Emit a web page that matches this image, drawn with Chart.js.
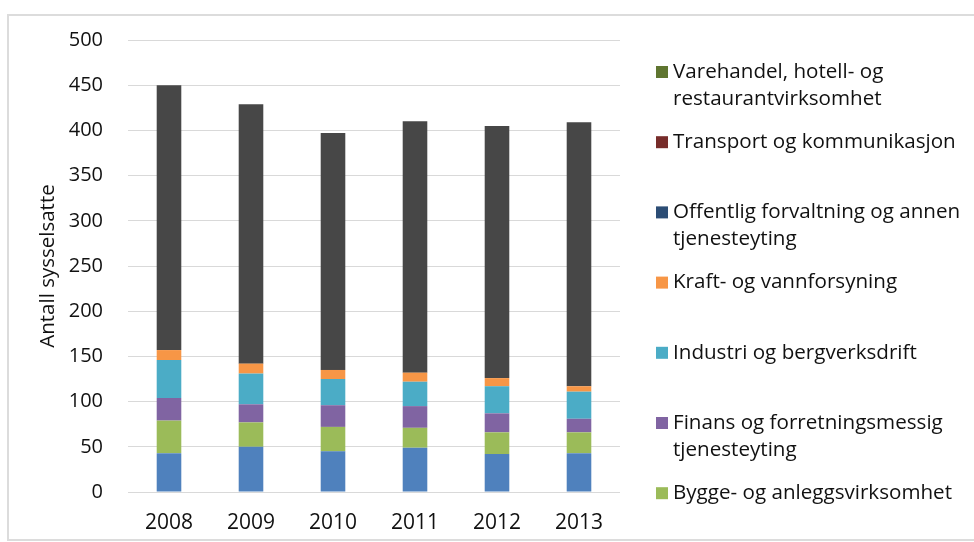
<!DOCTYPE html>
<html>
<head>
<meta charset="utf-8">
<script src="https://cdn.jsdelivr.net/npm/chart.js@4"></script>
<style>
  html, body { margin: 0; padding: 0; background: #ffffff; }
  #wrap { width: 974px; height: 542px; position: relative; }
</style>
</head>
<body>
<div id="wrap"><canvas id="c" width="974" height="542"></canvas></div>
<script>
// Sysselsatte per næring, 2008–2013
const years = ['2008', '2009', '2010', '2011', '2012', '2013'];

const primaernaeringer = [43, 50, 45, 49, 42, 43];
const bygge            = [36, 27, 27, 22, 24, 23];
const finans           = [25, 20, 24, 24, 21, 15];
const industri         = [42, 34, 29, 27, 30, 30];
const kraft            = [11, 11, 10, 10, 9, 6];
const offentlig        = [0, 0, 0, 0, 0, 0];
const transport        = [0, 0, 0, 0, 0, 0];
const varehandel       = [0, 0, 0, 0, 0, 0];
const andre            = [293, 287, 262, 278, 279, 292];

const yMax = 500;
const yStep = 50;
const yTitle = 'Antall sysselsatte';

// Series shown in the side legend, top to bottom
const legendOrder = [
  'Varehandel, hotell- og restaurantvirksomhet',
  'Transport og kommunikasjon',
  'Offentlig forvaltning og annen tjenesteyting',
  'Kraft- og vannforsyning',
  'Industri og bergverksdrift',
  'Finans og forretningsmessig tjenesteyting',
  'Bygge- og anleggsvirksomhet'
];

const FONT = '"Open Sans", "Noto Sans", sans-serif';
const TEXT = '#111111';

function series(label, data, color) {
  return { label, data, backgroundColor: color, borderWidth: 0 };
}

const datasets = [
  series('Primærnæringer', primaernaeringer, '#4f81bd'),
  series('Bygge- og anleggsvirksomhet', bygge, '#9bbb59'),
  series('Finans og forretningsmessig tjenesteyting', finans, '#8064a2'),
  series('Industri og bergverksdrift', industri, '#4bacc6'),
  series('Kraft- og vannforsyning', kraft, '#f79646'),
  series('Offentlig forvaltning og annen tjenesteyting', offentlig, '#2c4d75'),
  series('Transport og kommunikasjon', transport, '#772c2a'),
  series('Varehandel, hotell- og restaurantvirksomhet', varehandel, '#5f7530'),
  series('Andre næringer', andre, '#474747')
];

// Light frame around the chart object
const framePlugin = {
  id: 'frame',
  beforeDraw(chart) {
    const ctx = chart.ctx;
    ctx.save();
    ctx.strokeStyle = '#dcdcdc';
    ctx.lineWidth = 2;
    ctx.strokeRect(8, 15, 1000, 525);
    ctx.restore();
  }
};

function wrapText(ctx, text, maxWidth) {
  const words = text.split(' ');
  const lines = [];
  let line = '';
  words.forEach(w => {
    const test = line ? line + ' ' + w : w;
    if (line && ctx.measureText(test).width > maxWidth) {
      lines.push(line);
      line = w;
    } else {
      line = test;
    }
  });
  if (line) lines.push(line);
  return lines;
}

// Legend drawn to the right of the plot, one entry per row slot
const sideLegend = {
  id: 'sideLegend',
  afterDraw(chart) {
    const ctx = chart.ctx;
    const area = chart.chartArea;
    const x0 = area.right + 36;
    const top = 72;
    const stepY = 70.2;
    const lineH = 27;
    ctx.save();
    ctx.font = '20.6px ' + FONT;
    ctx.textBaseline = 'middle';
    ctx.textAlign = 'left';
    legendOrder.forEach((name, i) => {
      const ds = chart.data.datasets.find(d => d.label === name);
      const y = top + i * stepY;
      ctx.fillStyle = ds.backgroundColor;
      ctx.fillRect(x0, y - 6, 12, 12);
      ctx.fillStyle = TEXT;
      wrapText(ctx, name, 303).forEach((ln, j) => {
        ctx.fillText(ln, x0 + 17, y + j * lineH);
      });
    });
    ctx.restore();
  }
};

new Chart(document.getElementById('c'), {
  type: 'bar',
  data: { labels: years, datasets },
  plugins: [framePlugin, sideLegend],
  options: {
    responsive: false,
    animation: false,
    devicePixelRatio: 1,
    layout: { padding: { left: 32, top: 40, right: 354, bottom: 0 } },
    plugins: {
      legend: { display: false },
      tooltip: { enabled: false }
    },
    datasets: {
      bar: { barPercentage: 0.3, categoryPercentage: 1.0 }
    },
    scales: {
      x: {
        stacked: true,
        grid: { display: false, drawTicks: false },
        border: { display: false },
        ticks: { font: { family: FONT, size: 21 }, color: TEXT, padding: 18 },
        afterFit(scale) { scale.height = 50; }
      },
      y: {
        stacked: true,
        min: 0,
        max: yMax,
        ticks: { stepSize: yStep, font: { family: FONT, size: 20 }, color: TEXT, padding: 25 },
        grid: { color: '#d9d9d9', lineWidth: 1, drawTicks: false },
        border: { display: false },
        title: {
          display: true,
          text: yTitle,
          font: { family: FONT, size: 20.5 },
          color: TEXT,
          padding: { top: 4, bottom: 4 }
        },
        afterFit(scale) { scale.width = 96; }
      }
    }
  }
});
</script>
</body>
</html>
